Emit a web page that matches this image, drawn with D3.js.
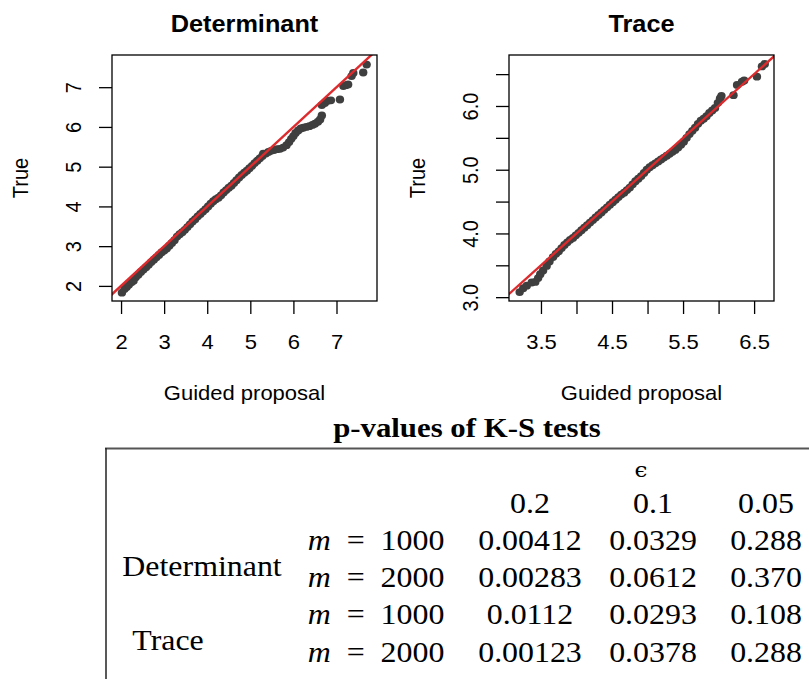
<!DOCTYPE html>
<html>
<head>
<meta charset="utf-8">
<script src="https://cdn.jsdelivr.net/npm/d3@7"></script>
<style>
  html, body { margin: 0; padding: 0; background: #fff; }
  svg { display: block; }
</style>
</head>
<body>
<div id="chart"></div>
<script>
// QQ points: guided proposal (x) vs true (y)
const detGuided = [2.02, 2.08, 2.13, 2.18, 2.24, 2.29, 2.34, 2.40, 2.46, 2.52,
  2.58, 2.64, 2.70, 2.76, 2.82, 2.88, 2.94, 3.00, 3.06, 3.12,
  3.18, 3.24, 3.30, 3.36, 3.42, 3.48, 3.54, 3.60, 3.66, 3.72,
  3.78, 3.84, 3.90, 3.96, 4.02, 4.08, 4.14, 4.20, 4.26, 4.32,
  4.38, 4.44, 4.50, 4.56, 4.62, 4.68, 4.74, 4.80, 4.86, 4.92,
  4.98, 5.04, 5.10, 5.16, 5.22, 5.28, 5.30, 5.36, 5.42, 5.48,
  5.55, 5.62, 5.69, 5.76, 5.84, 5.90, 5.95, 6.00, 6.05, 6.11,
  6.17, 6.23, 6.30, 6.37, 6.44, 6.50, 6.57, 6.62, 6.66, 6.66,
  6.73, 6.80, 6.87, 7.08, 7.16, 7.22, 7.27, 7.35, 7.39, 7.62, 7.70];
const detTrue = [1.83, 1.92, 1.97, 2.03, 2.09, 2.13, 2.22, 2.28, 2.35, 2.41,
  2.47, 2.53, 2.60, 2.66, 2.72, 2.78, 2.84, 2.89, 2.94, 3.01,
  3.08, 3.15, 3.24, 3.30, 3.35, 3.41, 3.48, 3.55, 3.62, 3.68,
  3.75, 3.81, 3.87, 3.93, 4.00, 4.07, 4.13, 4.18, 4.22, 4.28,
  4.35, 4.41, 4.47, 4.52, 4.59, 4.66, 4.73, 4.79, 4.85, 4.90,
  4.96, 5.02, 5.09, 5.15, 5.21, 5.27, 5.33, 5.33, 5.37, 5.40,
  5.42, 5.44, 5.45, 5.48, 5.54, 5.62, 5.70, 5.77, 5.85, 5.91,
  5.96, 5.98, 6.00, 6.02, 6.05, 6.08, 6.13, 6.19, 6.29, 6.55,
  6.60, 6.66, 6.67, 6.69, 7.03, 7.05, 7.07, 7.28, 7.36, 7.37, 7.57];

const traceGuided = [3.20, 3.25, 3.30, 3.37, 3.42, 3.46, 3.49, 3.53, 3.58, 3.62,
  3.67, 3.71, 3.75, 3.79, 3.83, 3.87, 3.91, 3.95, 3.99, 4.03,
  4.07, 4.11, 4.15, 4.19, 4.23, 4.27, 4.31, 4.35, 4.39, 4.43,
  4.47, 4.51, 4.55, 4.59, 4.63, 4.67, 4.71, 4.75, 4.79, 4.83,
  4.87, 4.91, 4.95, 4.99, 5.03, 5.07, 5.11, 5.15, 5.19, 5.23,
  5.27, 5.31, 5.35, 5.39, 5.43, 5.47, 5.51, 5.55, 5.59, 5.63,
  5.67, 5.71, 5.75, 5.79, 5.83, 5.87, 5.91, 5.95, 5.99, 6.02,
  6.04, 6.21, 6.26, 6.33, 6.36, 6.54, 6.61, 6.65];
const traceTrue = [3.08, 3.14, 3.18, 3.23, 3.24, 3.30, 3.36, 3.42, 3.49, 3.56,
  3.63, 3.68, 3.72, 3.77, 3.82, 3.86, 3.90, 3.93, 3.97, 4.01,
  4.05, 4.09, 4.13, 4.17, 4.21, 4.25, 4.29, 4.33, 4.37, 4.41,
  4.45, 4.49, 4.53, 4.57, 4.61, 4.64, 4.68, 4.72, 4.77, 4.82,
  4.86, 4.90, 4.95, 5.00, 5.04, 5.07, 5.10, 5.13, 5.16, 5.19,
  5.22, 5.25, 5.28, 5.31, 5.35, 5.39, 5.44, 5.50, 5.56, 5.61,
  5.66, 5.72, 5.77, 5.80, 5.84, 5.89, 5.93, 5.97, 6.05, 6.12,
  6.16, 6.17, 6.33, 6.38, 6.40, 6.46, 6.62, 6.66];

const detXTicks = [2, 3, 4, 5, 6, 7];
const detXLabels = ['2', '3', '4', '5', '6', '7'];
const detYTicks = [2, 3, 4, 5, 6, 7];
const detYLabels = ['2', '3', '4', '5', '6', '7'];
const traceXTicks = [3.5, 4, 4.5, 5, 5.5, 6, 6.5];
const traceXLabels = ['3.5', '', '4.5', '', '5.5', '', '6.5'];
const traceYTicks = [3, 3.5, 4, 4.5, 5, 5.5, 6, 6.5];
const traceYLabels = ['3.0', '', '4.0', '', '5.0', '', '6.0', ''];

// K-S test table
const epsValues = ['0.2', '0.1', '0.05'];
const statNames = ['Determinant', 'Trace'];
const mValues = ['1000', '2000', '1000', '2000'];
const pValues = [
  ['0.00412', '0.0329', '0.288'],
  ['0.00283', '0.0612', '0.370'],
  ['0.0112', '0.0293', '0.108'],
  ['0.00123', '0.0378', '0.288']
];

const W = 809;
const H = 679;
const SX = 1.1; // the source figure is a little wider than tall
const sans = "'Liberation Sans', Arial, Helvetica, sans-serif";
const serif = "'Liberation Serif', 'Times New Roman', serif";
const pointColor = '#3f3f3f';
const lineColor = '#dd2a2d';

const svg = d3
  .select('#chart')
  .append('svg')
  .attr('width', W)
  .attr('height', H);

// place a text at (x, y) with the horizontal stretch
const place = (sel, x, y) =>
  sel.attr('x', 0).attr('y', 0).attr('transform', `translate(${x},${y}) scale(${SX},1)`);

const drawQQ = (opts) => {
  const { id, left, right, top, bottom, xDomain, yDomain, xs, ys, title } = opts;

  const x = d3.scaleLinear().domain(xDomain).range([left, right]);
  const y = d3.scaleLinear().domain(yDomain).range([bottom, top]);

  const g = svg.append('g').attr('class', id);

  g.append('clipPath')
    .attr('id', `clip-${id}`)
    .append('rect')
    .attr('x', left)
    .attr('y', top)
    .attr('width', right - left)
    .attr('height', bottom - top);

  const pts = xs.map((d, i) => ({ gx: d, ty: ys[i] }));

  g.append('g')
    .attr('clip-path', `url(#clip-${id})`)
    .selectAll('ellipse')
    .data(pts)
    .enter()
    .append('ellipse')
    .attr('cx', (d) => x(d.gx))
    .attr('cy', (d) => y(d.ty))
    .attr('rx', 4.2)
    .attr('ry', 3.9)
    .attr('fill', pointColor);

  // y = x reference line
  const lo = Math.min(xDomain[0], yDomain[0]);
  const hi = Math.max(xDomain[1], yDomain[1]);
  g.append('path')
    .datum([lo, hi])
    .attr('clip-path', `url(#clip-${id})`)
    .attr('d', d3.line().x((d) => x(d)).y((d) => y(d)))
    .attr('stroke', lineColor)
    .attr('stroke-width', 2.4)
    .attr('fill', 'none');

  g.append('rect')
    .attr('x', left)
    .attr('y', top)
    .attr('width', right - left)
    .attr('height', bottom - top)
    .attr('fill', 'none')
    .attr('stroke', '#000')
    .attr('stroke-width', 1.3);

  const xAxis = d3
    .axisBottom(x)
    .tickValues(opts.xTicks)
    .tickFormat((d, i) => opts.xLabels[i])
    .tickSize(13)
    .tickSizeOuter(0);

  const gx = g.append('g').attr('transform', `translate(0,${bottom})`).call(xAxis);
  gx.select('.domain').remove();
  gx.selectAll('.tick line').attr('stroke', '#000').attr('stroke-width', 1.3);
  gx.selectAll('.tick text')
    .attr('dy', 0)
    .attr('font-family', sans)
    .attr('font-size', 20)
    .attr('fill', '#000')
    .call(place, 0, 48);

  const yAxis = d3
    .axisLeft(y)
    .tickValues(opts.yTicks)
    .tickFormat((d, i) => opts.yLabels[i])
    .tickSize(13)
    .tickSizeOuter(0);

  const gy = g.append('g').attr('transform', `translate(${left},0)`).call(yAxis);
  gy.select('.domain').remove();
  gy.selectAll('.tick line').attr('stroke', '#000').attr('stroke-width', 1.3);
  gy.selectAll('.tick text')
    .attr('x', 0)
    .attr('dy', 0)
    .attr('text-anchor', 'middle')
    .attr('transform', `translate(-31,0) scale(${SX},1) rotate(-90)`)
    .attr('font-family', sans)
    .attr('font-size', 20)
    .attr('fill', '#000');

  const cx = (left + right) / 2;
  const cy = (top + bottom) / 2;

  g.append('text')
    .attr('text-anchor', 'middle')
    .attr('font-family', sans)
    .attr('font-weight', 'bold')
    .attr('font-size', 23)
    .text(title)
    .call(place, cx, 32);

  g.append('text')
    .attr('text-anchor', 'middle')
    .attr('font-family', sans)
    .attr('font-size', 20)
    .text('Guided proposal')
    .call(place, cx, 400);

  g.append('text')
    .attr('transform', `translate(${left - 84},${cy}) scale(${SX},1) rotate(-90)`)
    .attr('text-anchor', 'middle')
    .attr('font-family', sans)
    .attr('font-size', 20)
    .text('True');
};

drawQQ({
  id: 'det',
  left: 112,
  right: 377,
  top: 55,
  bottom: 301,
  xDomain: [1.79, 7.94],
  yDomain: [1.62, 7.81],
  xs: detGuided,
  ys: detTrue,
  xTicks: detXTicks,
  xLabels: detXLabels,
  yTicks: detYTicks,
  yLabels: detYLabels,
  title: 'Determinant'
});

drawQQ({
  id: 'trace',
  left: 509,
  right: 774,
  top: 55,
  bottom: 301,
  xDomain: [3.05, 6.78],
  yDomain: [2.94, 6.8],
  xs: traceGuided,
  ys: traceTrue,
  xTicks: traceXTicks,
  xLabels: traceXLabels,
  yTicks: traceYTicks,
  yLabels: traceYLabels,
  title: 'Trace'
});

// table of p-values
const table = svg.append('g').attr('class', 'table');

table.append('text')
  .attr('text-anchor', 'middle')
  .attr('font-family', serif)
  .attr('font-weight', 'bold')
  .attr('font-size', 28)
  .text('p-values of K-S tests')
  .call(place, 467, 437);

table.append('line')
  .attr('x1', 105).attr('x2', W)
  .attr('y1', 448.5).attr('y2', 448.5)
  .attr('stroke', '#555')
  .attr('stroke-width', 2);

table.append('line')
  .attr('x1', 106).attr('x2', 106)
  .attr('y1', 448).attr('y2', H)
  .attr('stroke', '#222')
  .attr('stroke-width', 1.5);

const colX = d3.scaleOrdinal().domain(epsValues).range([530, 653, 766]);
const rowY = d3.scalePoint().domain(d3.range(pValues.length)).range([550, 661.5]);

table.append('text')
  .attr('text-anchor', 'middle')
  .attr('font-family', "'DejaVu Serif', serif")
  .attr('font-size', 21)
  .text('\u03f5')
  .call(place, 641, 477);

table.selectAll('.eps-head')
  .data(epsValues)
  .enter()
  .append('text')
  .attr('class', 'eps-head')
  .attr('text-anchor', 'middle')
  .attr('font-family', serif)
  .attr('font-size', 29)
  .text((d) => d)
  .each(function(d) {
    place(d3.select(this), colX(d), 513);
  });

const mLabel = table.selectAll('.m-label')
  .data(mValues)
  .enter()
  .append('text')
  .attr('class', 'm-label')
  .attr('text-anchor', 'middle')
  .attr('font-family', serif)
  .attr('font-size', 29)
  .each(function(d, i) {
    place(d3.select(this), 376, rowY(i));
  });
mLabel.append('tspan').attr('font-style', 'italic').text('m');
mLabel.append('tspan').text((d) => `\u2002=\u2002${d}`);

pValues.forEach((row, i) => {
  table.selectAll(`.p-row-${i}`)
    .data(row)
    .enter()
    .append('text')
    .attr('class', `p-row-${i}`)
    .attr('text-anchor', 'middle')
    .attr('font-family', serif)
    .attr('font-size', 29)
    .text((d) => d)
    .each(function(d, j) {
      place(d3.select(this), colX(epsValues[j]), rowY(i));
    });
});

table.selectAll('.stat-name')
  .data(statNames)
  .enter()
  .append('text')
  .attr('class', 'stat-name')
  .attr('text-anchor', 'middle')
  .attr('font-family', serif)
  .attr('font-size', 29)
  .text((d) => d)
  .each(function(d, i) {
    place(d3.select(this), i === 0 ? 202 : 168, i === 0 ? 576 : 650);
  });
</script>
</body>
</html>
